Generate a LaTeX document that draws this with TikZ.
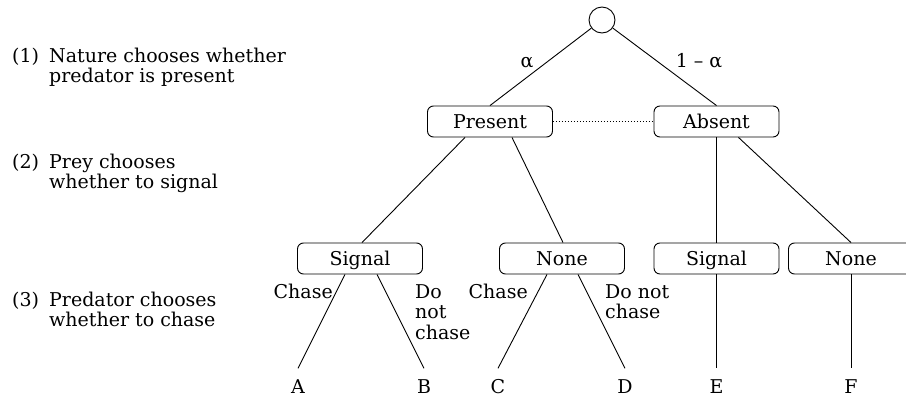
\documentclass[tikz,border=0pt]{standalone}
\usepackage{fontspec}
\setmainfont{DejaVu Serif}
\begin{document}
\begin{tikzpicture}[x=1pt,y=-1pt,
  every node/.style={font=\fontsize{19}{20.5}\selectfont},
  edge/.style={line width=0.9pt},
  decbox/.style={draw,line width=0.9pt,rounded corners=6pt,minimum width=125pt,minimum height=31pt,inner sep=0pt,text height=17pt,text depth=4pt},
  txt/.style={inner sep=0pt,align=left},
  leaf/.style={inner xsep=0pt,inner ysep=11.5pt,text height=13pt,text depth=0pt,anchor=base}]
\useasboundingbox (0,0) rectangle (906,399);
% left annotations (base anchor = baseline of last line)
\node[txt,anchor=base west] (n1) at (12,62) {(1)};
\node[txt,anchor=base west] (t1) at (49,82.5) {Nature chooses whether\\predator is present};
\node[txt,anchor=base west] (n2) at (12,168) {(2)};
\node[txt,anchor=base west] (t2) at (49,188.5) {Prey chooses\\whether to signal};
\node[txt,anchor=base west] (n3) at (12,306) {(3)};
\node[txt,anchor=base west] (t3) at (49,326.5) {Predator chooses\\whether to chase};
% tree
\node[draw,circle,line width=0.9pt,minimum size=26pt,inner sep=0pt] (root) at (602,20) {};
\node[decbox] (P) at (490,121.5) {Present};
\node[decbox] (Ab) at (716.5,121.5) {Absent};
\node[decbox] (S1) at (360,258.5) {Signal};
\node[decbox] (N1) at (562,258.5) {None};
\node[decbox] (S2) at (716.5,258.5) {Signal};
\node[decbox] (N2) at (851,258.5) {None};
\draw[edge] (root) -- (P.north);
\draw[edge] (root) -- (Ab.north);
\draw[line width=1pt,dash pattern=on 1.2pt off 1.8pt] (P.east) -- (Ab.west);
\node[txt,anchor=base] (al) at (527,67) {α};
\node[txt,anchor=base] (oma) at (699,67) {1 – α};
\draw[edge] ([xshift=-25pt]P.south) -- ([xshift=2pt]S1.north);
\draw[edge] ([xshift=22pt]P.south) -- ([xshift=1pt]N1.north);
\draw[edge] (Ab.south) -- (S2.north);
\draw[edge] ([xshift=22pt]Ab.south) -- (N2.north);
% leaves
\node[leaf] (A) at (298,393) {A};
\node[leaf] (B) at (424,393) {B};
\node[leaf] (C) at (498,393) {C};
\node[leaf] (D) at (625,393) {D};
\node[leaf] (E) at (716.5,393) {E};
\node[leaf] (F) at (851,393) {F};
\draw[edge] ([xshift=-15pt]S1.south) -- (A.north);
\draw[edge] ([xshift=17pt]S1.south) -- (B.north);
\draw[edge] ([xshift=-15pt]N1.south) -- (C.north);
\draw[edge] ([xshift=16pt]N1.south) -- (D.north);
\draw[edge] (S2.south) -- (E.north);
\draw[edge] (N2.south) -- (F.north);
% action labels
\node[txt,anchor=base east] (c1) at (333,298) {Chase};
\node[txt,anchor=base west] (d1) at (415,339) {Do\\not\\chase};
\node[txt,anchor=base east] (c2) at (528,298) {Chase};
\node[txt,anchor=base west] (d2) at (605,318.5) {Do not\\chase};
\end{tikzpicture}
\end{document}
